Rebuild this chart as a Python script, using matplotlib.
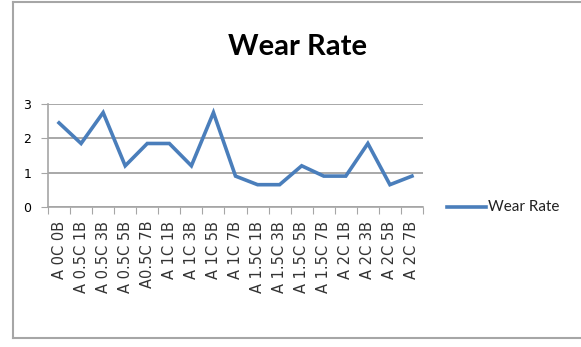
import matplotlib
matplotlib.use("Agg")
import matplotlib.pyplot as plt
from matplotlib.lines import Line2D

categories = ["A 0C 0B", "A 0.5C 1B", "A 0.5C 3B", "A 0.5C 5B", "A0.5C 7B",
              "A 1C 1B", "A 1C 3B", "A 1C 5B", "A 1C 7B", "A 1.5C 1B",
              "A 1.5C 3B", "A 1.5C 5B", "A 1.5C 7B", "A 2C 1B", "A 2C 3B",
              "A 2C 5B", "A 2C 7B"]
wear_rate = [2.45, 1.85, 2.75, 1.2, 1.85, 1.85, 1.2, 2.75, 0.9, 0.65,
             0.65, 1.2, 0.9, 0.9, 1.85, 0.65, 0.9]
y_ticks = [0, 1, 2, 3]
series_name = "Wear Rate"
title = "Wear Rate"

W, H = 581, 347
fig = plt.figure(figsize=(W / 100, H / 100), dpi=100)
fig.patch.set_facecolor("white")

# outer frame
frame_col = "#a6a6a6"
fig.add_artist(Line2D([13 / W, 13 / W], [1 - 2 / H, 1 - 338 / H], color=frame_col, lw=1.5, transform=fig.transFigure))
fig.add_artist(Line2D([13 / W, 1], [1 - 2 / H, 1 - 2 / H], color=frame_col, lw=1.5, transform=fig.transFigure))
fig.add_artist(Line2D([13 / W, 1], [1 - 338 / H, 1 - 338 / H], color=frame_col, lw=1.5, transform=fig.transFigure))

left, right, top, bottom = 48, 423, 104, 207
ax = fig.add_axes([left / W, 1 - bottom / H, (right - left) / W, (bottom - top) / H])

x = list(range(len(categories)))
line, = ax.plot(x, wear_rate, color="#4a7ebb", lw=2.6, solid_joinstyle="miter")

ax.set_xlim(-0.5, len(categories) - 0.5)
ax.set_ylim(0, 3)
ax.set_yticks(y_ticks)
ax.set_yticklabels([str(v) for v in y_ticks], fontsize=9)

ax.set_xticks([i - 0.5 for i in range(len(categories) + 1)])
ax.set_xticklabels([])
ax.set_xticks(x, minor=True)
ax.set_xticklabels(categories, minor=True, rotation=90, fontsize=10.5,
                   va="top", ha="center", color="#333333")
ax.tick_params(axis="x", which="minor", length=0, pad=10)
ax.tick_params(axis="x", which="major", length=5, color="#a6a6a6", direction="out")
ax.tick_params(axis="y", length=5, color="#a6a6a6", pad=7)

ax.grid(axis="y", color="#9a9a9a", lw=1.2)
ax.set_axisbelow(True)
for s in ["top", "right"]:
    ax.spines[s].set_visible(False)
for s in ["left", "bottom"]:
    ax.spines[s].set_color("#a6a6a6")
    ax.spines[s].set_linewidth(1.2)

fig.text(298 / W, 1 - 47 / H, title, fontsize=21, fontweight="bold",
         family="Lato", ha="center", va="center")

# legend
fig.add_artist(Line2D([447 / W, 486 / W], [1 - 207 / H, 1 - 207 / H],
                      color="#4a7ebb", lw=2.6, transform=fig.transFigure))
fig.text(488 / W, 1 - 207 / H, series_name, fontsize=11, ha="left", va="center",
         family="Lato", color="#222222")

fig.savefig("out.png", dpi=100)
